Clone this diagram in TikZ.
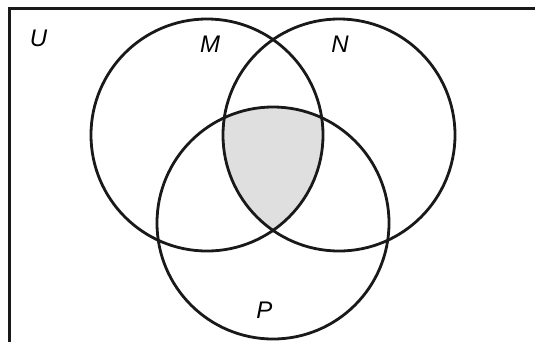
\documentclass[tikz,border=0pt]{standalone}
\usepackage{fontspec}
\setmainfont{Liberation Sans}
\begin{document}
\begin{tikzpicture}[x=1pt,y=-1pt,
  setline/.style={line width=2.8pt,black!90},
  setlabel/.style={font=\fontsize{24}{27}\selectfont\itshape,inner sep=0pt}]
\useasboundingbox (0,0) rectangle (535,341);
\begin{scope}
\clip (0,0) rectangle (535,341);
\draw[line width=2.5pt,black!90] (9.5,8.5) rectangle (560,360);
\end{scope}
\coordinate (cm) at (207,135);
\coordinate (cn) at (339,135);
\coordinate (cp) at (273,223);
\begin{scope}
\clip (cm) circle[radius=116];
\clip (cn) circle[radius=116];
\fill[gray!25] (cp) circle[radius=116];
\end{scope}
\draw[setline] (cm) circle[radius=116];
\draw[setline] (cn) circle[radius=116];
\draw[setline] (cp) circle[radius=116];
\node[setlabel] (u) at (38.5,38) {U};
\node[setlabel] (m) at (210,44) {M};
\node[setlabel] (n) at (340,44) {N};
\node[setlabel] (p) at (264.5,310) {P};
\end{tikzpicture}
\end{document}
